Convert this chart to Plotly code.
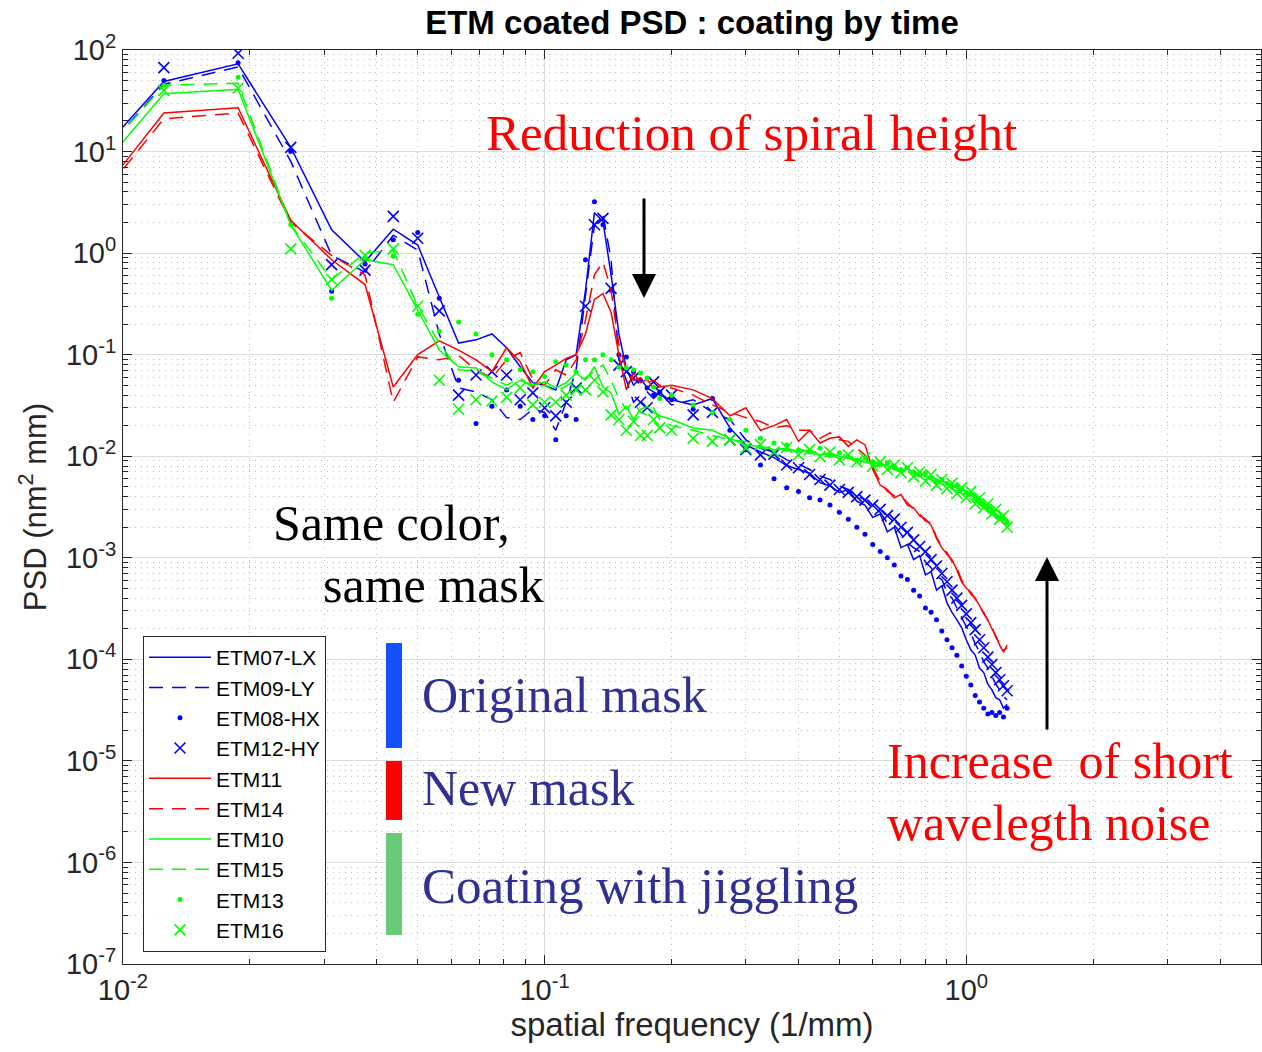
import math
import plotly.graph_objects as go

# ---------------- data ----------------
freq = [
    0.00625, 0.0125, 0.01875, 0.025, 0.03125, 0.0375, 0.04375, 0.05, 0.05625, 0.0625,
    0.06875, 0.075, 0.08125, 0.0875, 0.09375, 0.1, 0.10625, 0.1125, 0.11875, 0.125,
    0.13125, 0.1375, 0.14375, 0.15, 0.15625, 0.1625, 0.16875, 0.175, 0.18125, 0.1875,
    0.2, 0.225, 0.25, 0.275, 0.3, 0.325, 0.35, 0.375, 0.4, 0.425,
    0.45, 0.475, 0.5, 0.525, 0.55, 0.575, 0.6, 0.625, 0.65, 0.675,
    0.7, 0.725, 0.75, 0.775, 0.8, 0.825, 0.85, 0.875, 0.9, 0.925,
    0.95, 0.975, 1.0, 1.025, 1.05, 1.075, 1.1, 1.125, 1.15, 1.175,
    1.2, 1.225, 1.25]

etm07_lx = [
    2.0, 49, 73, 11, 1.7, 0.82, 1.72, 1.2, 0.37, 0.13,
    0.14, 0.16, 0.117, 0.076, 0.053, 0.050, 0.045, 0.089, 0.10, 0.43,
    2.5, 2.05, 0.61, 0.16, 0.073, 0.050, 0.059, 0.047, 0.043, 0.040,
    0.036, 0.032, 0.037, 0.019, 0.0129, 0.011, 0.0097, 0.0081, 0.0074, 0.0068,
    0.0055, 0.0051, 0.0044, 0.0047, 0.0036, 0.0033, 0.0025, 0.0027, 0.0018, 0.0020,
    0.00126, 0.00135, 0.00096, 0.00105, 0.00068, 0.00073, 0.00048, 0.00053, 0.00036, 0.00029,
    0.000245, 0.000205, 0.000156, 0.000124, 0.00011, 0.000082, 0.000074, 0.000057, 0.00005, 0.000042,
    0.00004, 0.000033, 0.000036]

etm09_ly = [
    1.8, 46, 68, 8.0, 0.95, 0.65, 1.5, 1.07, 0.16, 0.047,
    0.043, 0.036, 0.024, 0.023, 0.029, 0.027, 0.018, 0.034, 0.071, 0.39,
    1.9, 2.4, 0.86, 0.089, 0.056, 0.034, 0.040, 0.043, 0.037, 0.042,
    0.032, 0.036, 0.027, 0.023, 0.0145, 0.012, 0.011, 0.0092, 0.0084, 0.0074,
    0.0064, 0.0059, 0.0051, 0.0047, 0.0041, 0.0037, 0.0031, 0.0028, 0.0022, 0.0021,
    0.0017, 0.0014, 0.00126, 0.00115, 0.00091, 0.0008, 0.00066, 0.00061, 0.00046, 0.0004,
    0.00032, 0.00026, 0.00021, 0.00018, 0.000142, 0.000118, 0.000095, 0.000082, 0.000068, 0.000057,
    0.00005, 0.000043, 0.00004]

etm08_hx = [
    2.0, 50, 75, 10, 0.42, 0.78, 1.35, 1.6, 0.36, 0.056,
    0.021, 0.031, 0.045, 0.031, 0.023, 0.025, 0.0145, 0.025, 0.023, 0.86,
    3.2, 1.9, 0.43, 0.10, 0.095, 0.068, 0.056, 0.047, 0.040, 0.043,
    0.036, 0.029, 0.037, 0.018, 0.0116, 0.0082, 0.006, 0.0049, 0.0045, 0.0039,
    0.0037, 0.0033, 0.0028, 0.0024, 0.002, 0.0017, 0.00135, 0.00115, 0.001, 0.00085,
    0.00066, 0.00061, 0.00048, 0.00042, 0.00032, 0.00029, 0.000245, 0.00019, 0.000156, 0.00013,
    0.00011, 0.000086, 0.000068, 0.000056, 0.000044, 0.000038, 0.000033, 0.000029, 0.00003, 0.000028,
    0.00003, 0.000027, 0.000033]

etm12_hy = [
    2.5, 67, 93, 11, 0.77, 0.68, 2.3, 1.4, 0.27, 0.040,
    0.063, 0.068, 0.063, 0.036, 0.042, 0.030, 0.025, 0.034, 0.047, 0.30,
    1.9, 2.2, 0.45, 0.079, 0.068, 0.059, 0.034, 0.030, 0.054, 0.043,
    0.040, 0.0255, 0.027, 0.0145, 0.0116, 0.0103, 0.0105, 0.0082, 0.0077, 0.0066,
    0.0059, 0.0052, 0.0047, 0.0044, 0.004, 0.0037, 0.0033, 0.003, 0.0026, 0.0024,
    0.002, 0.00178, 0.0015, 0.00129, 0.00115, 0.00096, 0.00083, 0.0007, 0.00058, 0.00048,
    0.0004, 0.00034, 0.00028, 0.00023, 0.000196, 0.000156, 0.00013, 0.000105, 0.000089, 0.000074,
    0.000063, 0.000055, 0.000049]

etm11 = [
    0.62, 24, 27, 2.1, 0.86, 0.49, 0.048, 0.10, 0.137, 0.111,
    0.089, 0.068, 0.117, 0.085, 0.047, 0.068, 0.079, 0.092, 0.10, 0.16,
    0.35, 0.40, 0.26, 0.10, 0.045, 0.066, 0.053, 0.057, 0.047, 0.048,
    0.050, 0.045, 0.037, 0.025, 0.030, 0.018, 0.020, 0.023, 0.014, 0.018,
    0.0135, 0.015, 0.0155, 0.0125, 0.0145, 0.013, 0.0074, 0.0052, 0.0047, 0.0039,
    0.0042, 0.0033, 0.0031, 0.0026, 0.0024, 0.0021, 0.00155, 0.00126, 0.00108, 0.00096,
    0.00076, 0.00058, 0.0005, 0.00046, 0.00039, 0.00034, 0.00028, 0.000245, 0.0002, 0.00017,
    0.000138, 0.000118, 0.000138]

etm14 = [
    0.6, 21, 24, 2.0, 0.95, 0.61, 0.034, 0.095, 0.089, 0.098,
    0.071, 0.059, 0.089, 0.105, 0.057, 0.050, 0.071, 0.063, 0.089, 0.22,
    0.61, 0.82, 0.43, 0.125, 0.071, 0.056, 0.059, 0.053, 0.056, 0.050,
    0.047, 0.040, 0.032, 0.027, 0.024, 0.022, 0.019, 0.020, 0.018, 0.018,
    0.015, 0.017, 0.0145, 0.014, 0.012, 0.0103, 0.0078, 0.0056, 0.0045, 0.0041,
    0.004, 0.0035, 0.003, 0.0027, 0.0023, 0.0022, 0.0016, 0.0013, 0.00112, 0.00092,
    0.0008, 0.0006, 0.00052, 0.00044, 0.0004, 0.00033, 0.00029, 0.00024, 0.00021, 0.000165,
    0.000142, 0.000122, 0.00013]

etm10 = [
    1.25, 37, 41, 1.9, 0.43, 0.86, 0.77, 0.28, 0.111, 0.076,
    0.074, 0.054, 0.045, 0.056, 0.050, 0.054, 0.047, 0.053, 0.066, 0.056,
    0.076, 0.048, 0.042, 0.026, 0.031, 0.023, 0.029, 0.031, 0.027, 0.025,
    0.023, 0.019, 0.018, 0.015, 0.0129, 0.0125, 0.0116, 0.012, 0.011, 0.0116,
    0.0103, 0.0108, 0.01, 0.0096, 0.0092, 0.0088, 0.0084, 0.0086, 0.008, 0.0077,
    0.0074, 0.0075, 0.007, 0.0068, 0.0064, 0.0061, 0.0059, 0.0056, 0.0055, 0.0051,
    0.0049, 0.0047, 0.0045, 0.0042, 0.004, 0.0037, 0.0034, 0.0032, 0.003, 0.0027,
    0.0025, 0.0024, 0.0023]

etm15 = [
    1.8, 45, 47, 1.9, 0.55, 1.0, 1.07, 0.30, 0.13, 0.071,
    0.068, 0.059, 0.050, 0.059, 0.047, 0.050, 0.043, 0.049, 0.056, 0.059,
    0.068, 0.079, 0.056, 0.037, 0.029, 0.034, 0.027, 0.0255, 0.030, 0.023,
    0.020, 0.018, 0.016, 0.0145, 0.014, 0.012, 0.0125, 0.0113, 0.0118, 0.0108,
    0.011, 0.0098, 0.0103, 0.0096, 0.0088, 0.0092, 0.0082, 0.0079, 0.008, 0.0074,
    0.007, 0.0068, 0.0069, 0.0063, 0.006, 0.0059, 0.0055, 0.0054, 0.0051, 0.0048,
    0.0046, 0.0043, 0.0042, 0.0039, 0.0036, 0.0034, 0.0032, 0.003, 0.0028, 0.0026,
    0.0024, 0.0023, 0.0021]

etm13 = [
    1.8, 45, 54, 1.9, 0.36, 0.9, 0.93, 0.25, 0.17, 0.21,
    0.16, 0.10, 0.089, 0.071, 0.068, 0.061, 0.085, 0.079, 0.068, 0.089,
    0.089, 0.10, 0.089, 0.075, 0.074, 0.071, 0.066, 0.059, 0.048, 0.037,
    0.040, 0.032, 0.027, 0.023, 0.018, 0.015, 0.0135, 0.0129, 0.0116, 0.011,
    0.012, 0.0103, 0.0108, 0.0099, 0.0092, 0.0096, 0.0088, 0.0082, 0.0086, 0.0079,
    0.0074, 0.0077, 0.007, 0.0066, 0.0068, 0.0061, 0.0057, 0.0059, 0.0054, 0.005,
    0.0051, 0.0047, 0.0044, 0.0042, 0.0039, 0.0035, 0.0033, 0.0031, 0.0028, 0.0026,
    0.0025, 0.0024, 0.0022]

etm16 = [
    1.5, 40, 42, 1.1, 0.55, 0.95, 1.1, 0.30, 0.056, 0.029,
    0.036, 0.035, 0.038, 0.047, 0.032, 0.034, 0.034, 0.040, 0.045, 0.045,
    0.056, 0.043, 0.0255, 0.023, 0.018, 0.022, 0.016, 0.016, 0.023, 0.019,
    0.018, 0.015, 0.014, 0.0145, 0.012, 0.013, 0.011, 0.0122, 0.0103, 0.0116,
    0.0099, 0.011, 0.0092, 0.0103, 0.0088, 0.0096, 0.008, 0.0088, 0.0074, 0.0082,
    0.0069, 0.0077, 0.0063, 0.007, 0.0057, 0.0066, 0.0052, 0.0059, 0.0048, 0.0054,
    0.0043, 0.0049, 0.0039, 0.0045, 0.0034, 0.0039, 0.0031, 0.0034, 0.0027, 0.003,
    0.0024, 0.0026, 0.002]

x_tick_vals = [0.01, 0.1, 1]
x_tick_text = ["10<sup>-2</sup>", "10<sup>-1</sup>", "10<sup>0</sup>"]
y_tick_vals = [1e2, 1e1, 1e0, 1e-1, 1e-2, 1e-3, 1e-4, 1e-5, 1e-6, 1e-7]
y_tick_text = ["10<sup>2</sup>", "10<sup>1</sup>", "10<sup>0</sup>", "10<sup>-1</sup>",
               "10<sup>-2</sup>", "10<sup>-3</sup>", "10<sup>-4</sup>", "10<sup>-5</sup>",
               "10<sup>-6</sup>", "10<sup>-7</sup>"]

# ---------------- styling ----------------
W, H = 1262, 1052
ML, MR, MT, MB = 123, 1, 50, 88
PW, PH = W - ML - MR, H - MT - MB

def px(x):
    return (x - ML) / PW

def py(y):
    return (H - MB - y) / PH

BLUE, RED, GREEN = "#0000FF", "#FF0000", "#00FF00"
DASH = "14px,9px"
SANS = "Liberation Sans"
SERIF = "Liberation Serif"

fig = go.Figure()

def add_line(y, name, color, dash):
    fig.add_trace(go.Scatter(x=freq, y=y, name=name, mode="lines",
                             line=dict(color=color, width=1.5, dash=dash)))

def add_dots(y, name, color):
    fig.add_trace(go.Scatter(x=freq, y=y, name=name, mode="markers",
                             marker=dict(color=color, size=5, symbol="circle")))

def add_cross(y, name, color):
    fig.add_trace(go.Scatter(x=freq, y=y, name=name, mode="markers",
                             marker=dict(symbol="x-thin", size=11, color=color,
                                         line=dict(color=color, width=1.6))))

add_line(etm07_lx, "ETM07-LX", BLUE, "solid")
add_line(etm09_ly, "ETM09-LY", BLUE, DASH)
add_dots(etm08_hx, "ETM08-HX", BLUE)
add_cross(etm12_hy, "ETM12-HY", BLUE)
add_line(etm11, "ETM11", RED, "solid")
add_line(etm14, "ETM14", RED, DASH)
add_line(etm10, "ETM10", GREEN, "solid")
add_line(etm15, "ETM15", GREEN, DASH)
add_dots(etm13, "ETM13", GREEN)
add_cross(etm16, "ETM16", GREEN)

x_minor = [k * 10 ** d for d in (-2, -1) for k in range(2, 10)] + [2, 3, 4]
y_minor = [k * 10 ** d for d in range(-7, 2) for k in range(2, 10)]

axis_common = dict(
    type="log", showline=True, linecolor="#262626", linewidth=1, mirror="allticks",
    ticks="inside", ticklen=9, tickwidth=1, tickcolor="#262626",
    showgrid=True, gridcolor="#dcdcdc", gridwidth=1, zeroline=False,
    tickfont=dict(family=SANS, size=29, color="#262626"),
)

fig.update_xaxes(
    **axis_common, range=[-2, math.log10(5)],
    tickmode="array", tickvals=x_tick_vals, ticktext=x_tick_text,
    minor=dict(tickmode="array", tickvals=x_minor, ticks="inside", ticklen=5,
               tickcolor="#262626", showgrid=True, gridcolor="#bdbdbd",
               griddash="1px,5px", gridwidth=1),
    title=dict(text="spatial frequency (1/mm)", font=dict(family=SANS, size=33, color="#262626"),
               standoff=8),
)
fig.update_yaxes(
    **axis_common, range=[-7, 2],
    tickmode="array", tickvals=y_tick_vals, ticktext=y_tick_text,
    minor=dict(tickmode="array", tickvals=y_minor, ticks="inside", ticklen=5,
               tickcolor="#262626", showgrid=True, gridcolor="#bdbdbd",
               griddash="1px,5px", gridwidth=1),
    title=dict(text="PSD (nm<sup>2</sup> mm)", font=dict(family=SANS, size=31, color="#262626"),
               standoff=10),
)

annotations = [
    dict(text="Reduction of spiral height", x=px(751), y=py(133), xanchor="center",
         yanchor="middle", font=dict(family=SERIF, size=51, color="#FF0000")),
    dict(text="Same color,", x=px(391), y=py(523), xanchor="center", yanchor="middle",
         font=dict(family=SERIF, size=50, color="black")),
    dict(text="same mask", x=px(433), y=py(585), xanchor="center", yanchor="middle",
         font=dict(family=SERIF, size=50, color="black")),
    dict(text="Original mask", x=px(420), y=py(695), xanchor="left", yanchor="middle",
         font=dict(family=SERIF, size=50, color="#2E3192")),
    dict(text="New mask", x=px(420), y=py(788), xanchor="left", yanchor="middle",
         font=dict(family=SERIF, size=50, color="#2E3192")),
    dict(text="Coating with jiggling", x=px(420), y=py(886), xanchor="left", yanchor="middle",
         font=dict(family=SERIF, size=51, color="#2E3192")),
    dict(text="Increase  of short", x=px(885), y=py(761), xanchor="left", yanchor="middle",
         font=dict(family=SERIF, size=50, color="#FF0000")),
    dict(text="wavelegth noise", x=px(885), y=py(823), xanchor="left", yanchor="middle",
         font=dict(family=SERIF, size=50, color="#FF0000")),
    # arrows
    dict(text="", x=px(644), y=py(298), ax=0, ay=-101, showarrow=True,
         arrowhead=2, arrowsize=1.6, arrowwidth=3, arrowcolor="black"),
    dict(text="", x=px(1047), y=py(557), ax=0, ay=174, showarrow=True,
         arrowhead=2, arrowsize=1.6, arrowwidth=3, arrowcolor="black"),
]
for a in annotations:
    a.setdefault("showarrow", False)
    a["xref"] = "paper"
    a["yref"] = "paper"

shapes = [
    dict(type="rect", xref="paper", yref="paper", x0=px(386), x1=px(402), y0=py(748), y1=py(643),
         fillcolor="#1450FF", line=dict(width=0)),
    dict(type="rect", xref="paper", yref="paper", x0=px(386), x1=px(402), y0=py(820), y1=py(761),
         fillcolor="#FF0000", line=dict(width=0)),
    dict(type="rect", xref="paper", yref="paper", x0=px(386), x1=px(402), y0=py(935), y1=py(833),
         fillcolor="#66CC77", line=dict(width=0)),
]

fig.update_layout(
    width=W, height=H,
    margin=dict(l=ML, r=MR, t=MT, b=MB),
    paper_bgcolor="white", plot_bgcolor="white",
    title=dict(text="<b>ETM coated PSD : coating by time</b>", x=0.5, xref="paper",
               xanchor="center", y=1 - 22 / H, yref="container", yanchor="middle",
               font=dict(family=SANS, size=33, color="black")),
    legend=dict(x=px(143), y=py(636), xanchor="left", yanchor="top",
                bgcolor="white", bordercolor="#262626", borderwidth=1,
                font=dict(family=SANS, size=21, color="black"),
                itemwidth=62, tracegroupgap=0),
    annotations=annotations,
    shapes=shapes,
    showlegend=True,
)

fig.write_html("out.html")
